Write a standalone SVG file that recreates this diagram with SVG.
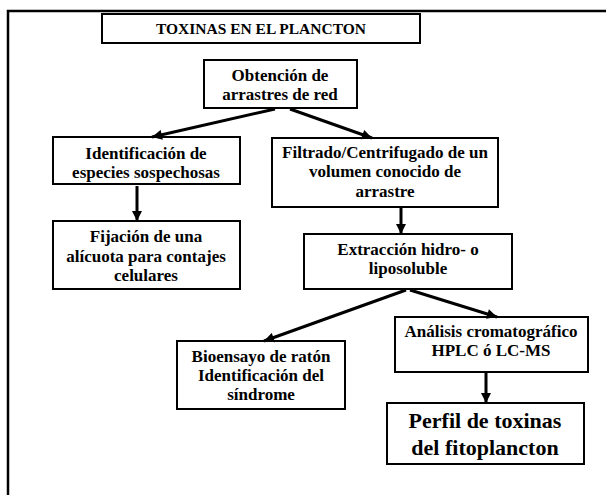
<svg xmlns="http://www.w3.org/2000/svg" width="606" height="495" viewBox="0 0 606 495">
<defs>
<style>
.box{fill:#fff;stroke:#000;stroke-width:2}
.t{font-family:"Liberation Serif","Times New Roman",serif;font-weight:bold;font-size:17px;text-anchor:middle;fill:#000}
.big{font-size:22px}
.title{font-size:15.5px}
.c{stroke:#000;stroke-width:3;fill:none;marker-end:url(#ah)}
</style>
<marker id="ah" viewBox="0 0 10 10" refX="10" refY="5" markerWidth="11" markerHeight="10" markerUnits="userSpaceOnUse" orient="auto">
<path d="M0,0 L10,5 L0,10 z" fill="#000"/>
</marker>
</defs>
<rect x="8" y="11" width="620" height="500" fill="#fff" stroke="#000" stroke-width="2.5"/>
<g id="title"><rect class="box" x="102" y="14" width="318" height="29"/><text class="t title" x="261" y="34">TOXINAS EN EL PLANCTON</text></g>
<g id="obtencion"><rect class="box" x="204" y="60" width="153" height="48"/><text class="t" x="280" y="81">Obtención de</text><text class="t" x="280" y="100">arrastres de red</text></g>
<g id="identificacion"><rect class="box" x="53" y="137" width="187" height="47"/><text class="t" x="146" y="159">Identificación de</text><text class="t" x="146" y="178">especies sospechosas</text></g>
<g id="filtrado"><rect class="box" x="272" y="138" width="226" height="69"/><text class="t" x="385" y="158">Filtrado/Centrifugado de un</text><text class="t" x="385" y="177">volumen conocido de</text><text class="t" x="385" y="197">arrastre</text></g>
<g id="fijacion"><rect class="box" x="53" y="221" width="187" height="68"/><text class="t" x="146" y="242">Fijación de una</text><text class="t" x="146" y="262">alícuota para contajes</text><text class="t" x="146" y="281">celulares</text></g>
<g id="extraccion"><rect class="box" x="304" y="234" width="208" height="55"/><text class="t" x="408" y="255">Extracción hidro- o</text><text class="t" x="408" y="274">liposoluble</text></g>
<g id="bioensayo"><rect class="box" x="177" y="341" width="168" height="68"/><text class="t" x="261" y="362">Bioensayo de ratón</text><text class="t" x="261" y="381">Identificación del</text><text class="t" x="261" y="400">síndrome</text></g>
<g id="analisis"><rect class="box" x="395" y="317" width="193" height="55"/><text class="t" x="491" y="337">Análisis cromatográfico</text><text class="t" x="491" y="356">HPLC ó LC-MS</text></g>
<g id="perfil"><rect class="box" x="387" y="403" width="197" height="61"/><text class="t big" x="485" y="428">Perfil de toxinas</text><text class="t big" x="485" y="455">del fitoplancton</text></g>
<g id="connectors">
<line class="c" x1="275" y1="109" x2="152" y2="137"/>
<line class="c" x1="290" y1="109" x2="372" y2="138"/>
<line class="c" x1="137" y1="186" x2="137" y2="221"/>
<line class="c" x1="401" y1="208" x2="401" y2="234"/>
<line class="c" x1="406" y1="290" x2="264" y2="341"/>
<line class="c" x1="410" y1="290" x2="497" y2="317"/>
<line class="c" x1="486" y1="373" x2="486" y2="403"/>
</g>
</svg>
